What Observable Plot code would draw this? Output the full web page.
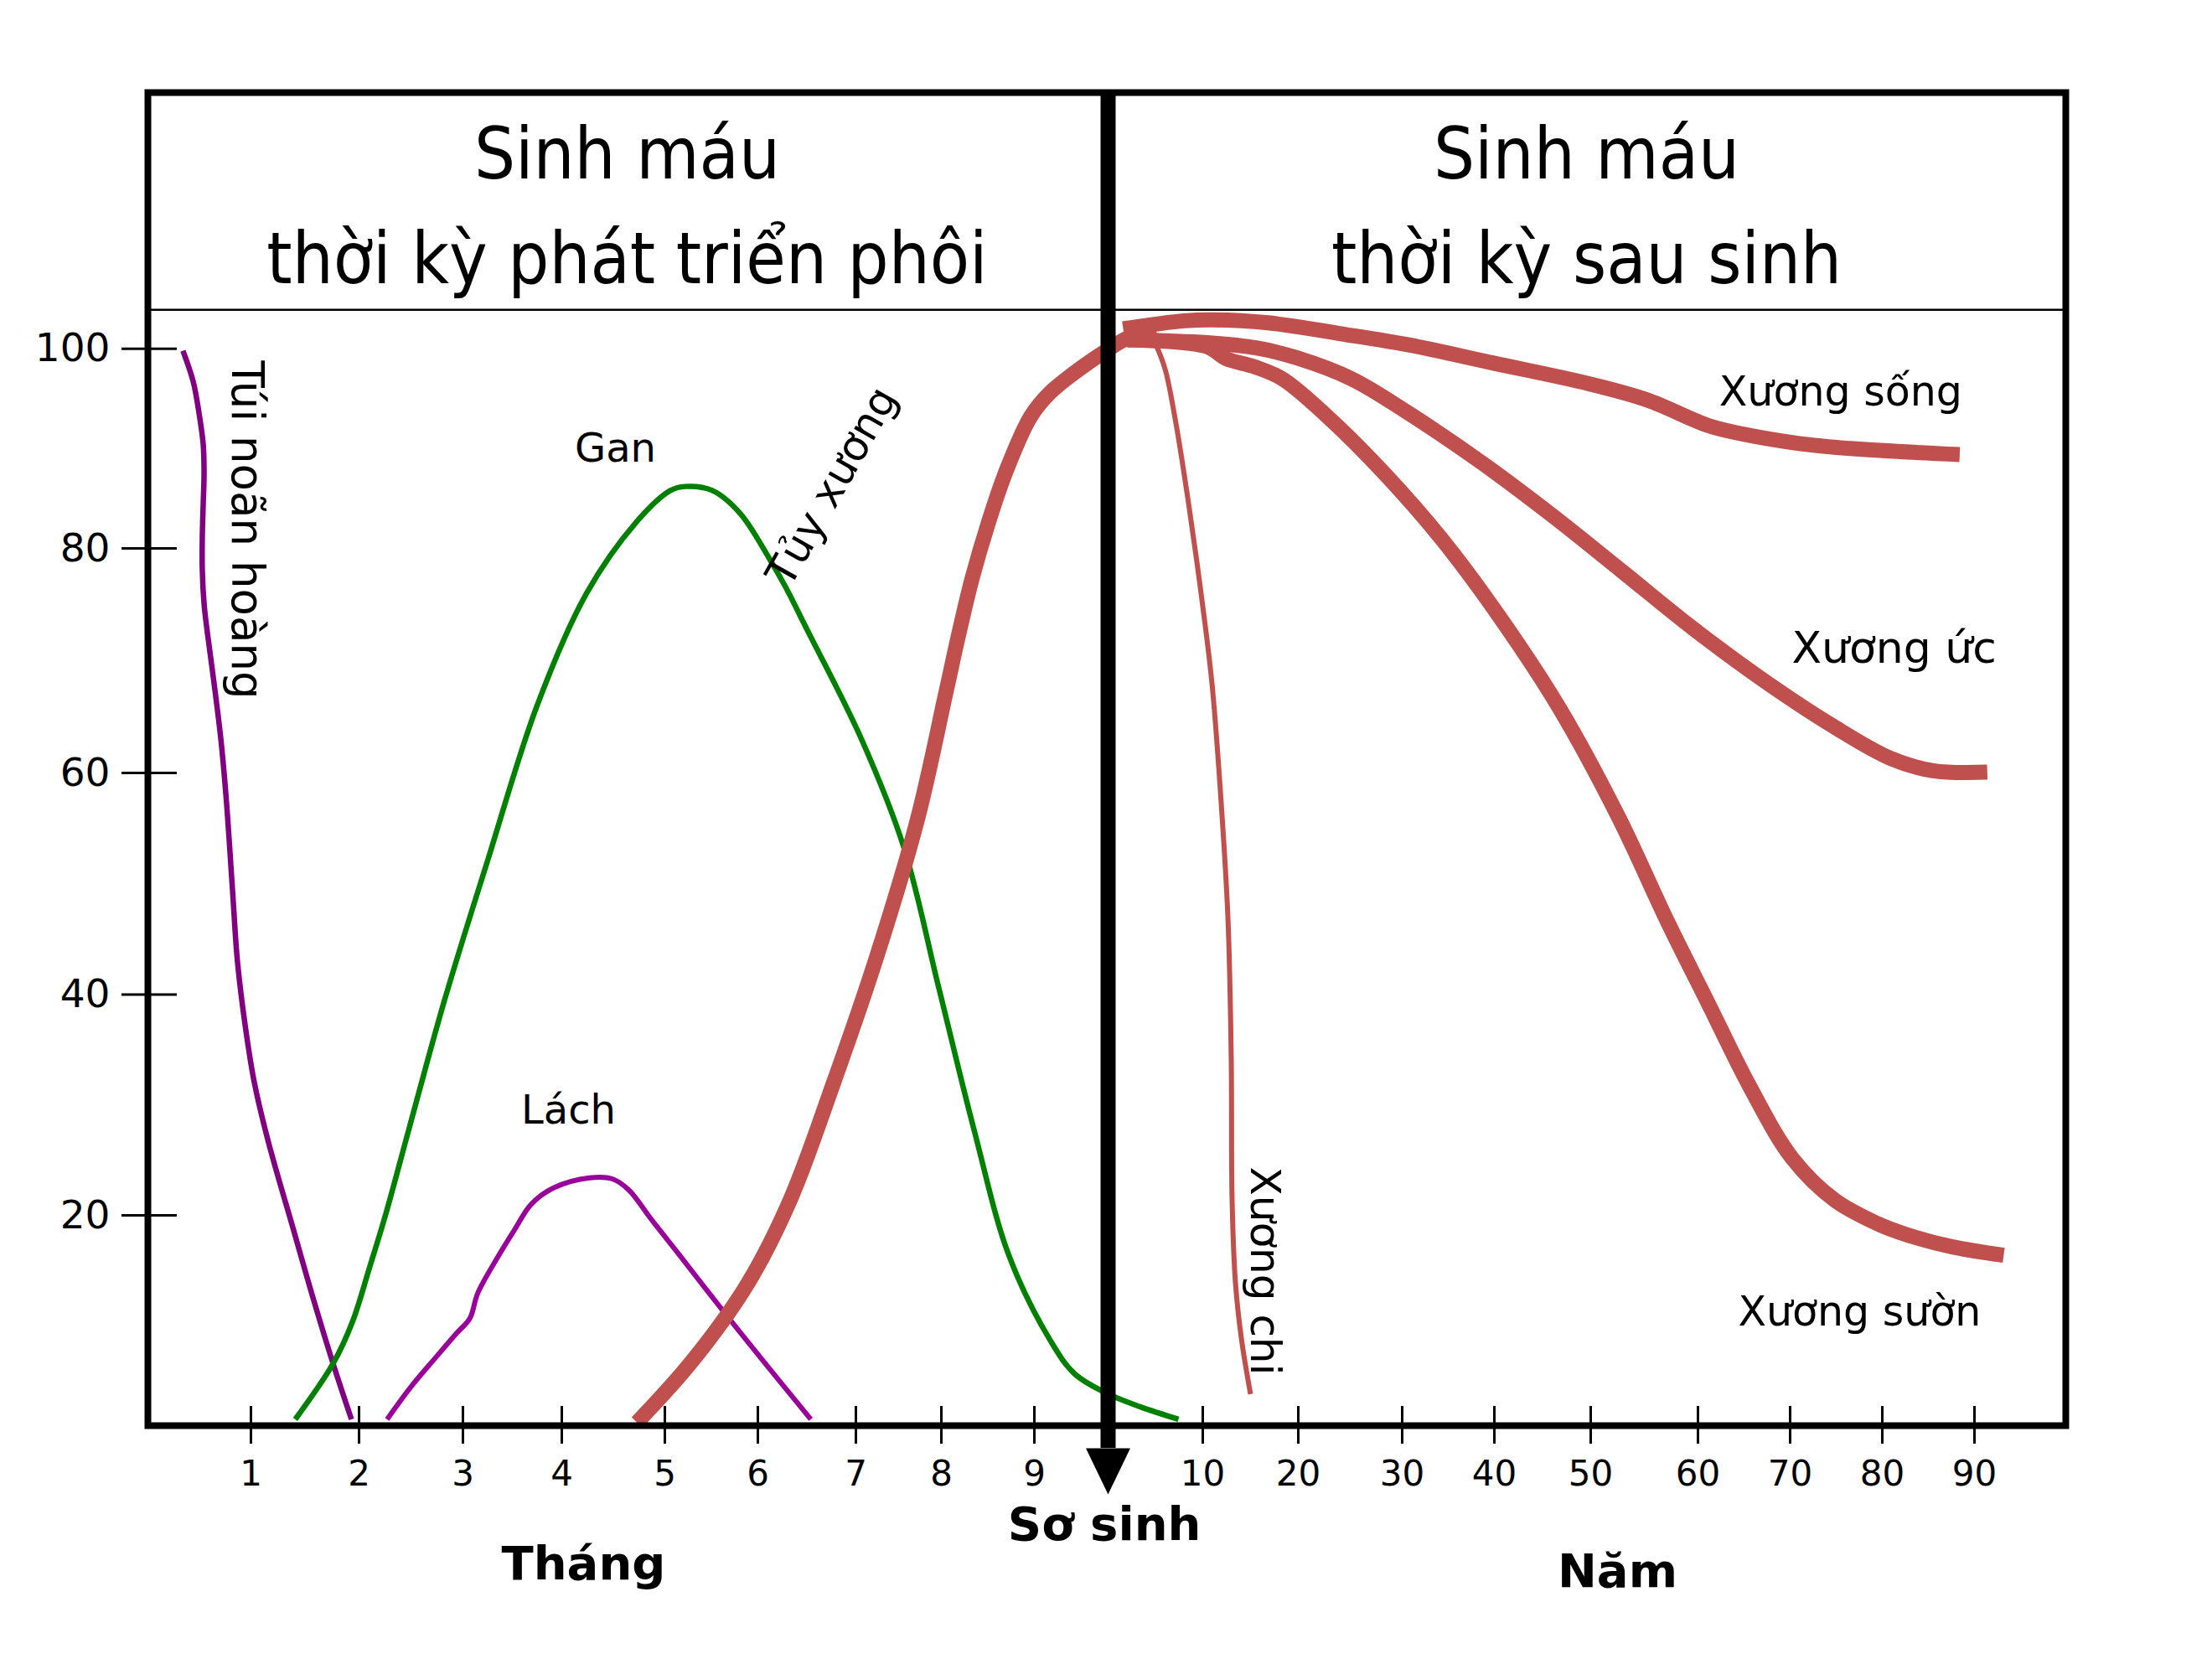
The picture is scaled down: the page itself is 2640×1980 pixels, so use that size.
<!DOCTYPE html>
<html><head><meta charset="utf-8">
<script src="https://cdn.jsdelivr.net/npm/d3@7"></script>
<script src="https://cdn.jsdelivr.net/npm/@observablehq/plot@0.6"></script>
<style>
html,body{margin:0;padding:0;background:#fff;}
#chart svg{display:block;}
g[font-family*="Condensed"]{font-stretch:condensed;}
</style></head><body><div id="chart"></div>
<script>
// ---- tick values ----
const monthTicks = [1, 2, 3, 4, 5, 6, 7, 8, 9];
const yearTicks = [10, 20, 30, 40, 50, 60, 70, 80, 90];
const yTicks = [20, 40, 60, 80, 100];
const BIRTH_MONTH = 9.8; // months since conception at birth

// ---- prenatal series: [month, % activity] ----
const tuiNoanHoang = [[0.34,99.8],[0.44,96.7],[0.50,93.3],[0.537,90.4],[0.545,87.5],[0.537,84.5],[0.528,81.2],[0.528,78.1],[0.545,75.1],[0.577,72.5],[0.642,68.0],[0.707,63.1],[0.76,57.7],[0.82,49.6],[0.87,42.9],[0.95,36.8],[1.03,32.1],[1.16,26.7],[1.40,18.4],[1.57,12.3],[1.76,5.9],[1.93,0.6]];
const gan = [[1.41,0.6],[1.76,5.9],[1.94,9.9],[2.10,15.0],[2.26,20.2],[2.48,27.8],[2.82,39.4],[3.25,52.1],[3.75,66.0],[4.24,76.0],[4.72,82.6],[5.06,85.8],[5.22,86.2],[5.51,85.8],[5.81,83.5],[6.11,79.2],[6.28,76.6],[6.50,72.8],[7.06,63.1],[7.56,53.3],[7.97,40.6],[8.35,27.8],[8.73,16.1],[9.18,8.0],[9.44,4.9],[9.78,3.1],[50.2,1.8],[99.0,0.6]];
const lach = [[2.27,0.6],[2.50,3.7],[2.74,6.5],[2.94,8.8],[3.07,10.2],[3.15,12.6],[3.35,16.0],[3.52,18.6],[3.69,21.0],[3.92,22.5],[4.27,23.4],[4.49,23.3],[4.65,22.3],[4.87,19.6],[5.15,16.3],[5.60,11.2],[6.05,6.2],[6.54,0.6]];
const tuyXuong = [[4.73,0.3],[5.29,6.1],[5.89,13.5],[6.33,21.4],[6.76,31.7],[7.23,43.1],[7.72,55.8],[8.05,67.2],[8.18,72.1],[8.33,77.3],[8.50,82.4],[8.69,87.6],[8.96,93.2],[9.17,95.6],[9.51,98.1],[9.78,99.8],[36.3,101.1],[71.4,101.5]];

// ---- postnatal series: [age in years, % activity] ----
const xuongSong = [[1.59,102.0],[8.05,102.8],[11.05,102.9],[16.84,102.6],[24.1,101.5],[30.6,100.4],[39.7,98.6],[49.8,96.5],[55.3,94.86],[61.0,92.34],[64.2,91.58],[70.5,90.57],[76.9,89.98],[88.4,89.4]];
const xuongUc = [[2.04,100.9],[10.44,100.6],[15.7,100.06],[19.8,99.1],[25.2,96.95],[30.6,93.6],[38.6,88.6],[46.0,83.3],[53.0,77.9],[59.5,72.9],[67.2,68.2],[74.8,64.1],[80.9,61.3],[85.5,60.2],[91.4,60.07]];
const xuongSuon = [[2.04,100.9],[10.44,100.2],[12.46,99.0],[15.4,98.2],[18.3,97.0],[22.6,93.4],[28.2,87.6],[34.4,80.8],[40.7,73.7],[46.8,65.7],[52.6,56.0],[57.2,46.5],[61.0,39.4],[65.6,31.7],[70.2,25.2],[74.8,21.4],[79.5,19.2],[82.5,18.2],[87.6,17.0],[93.2,16.2]];
const xuongChi = [[4.96,100.6],[6.02,97.96],[7.17,92.5],[8.50,84.5],[9.82,76.0],[10.96,68.0],[11.84,58.4],[12.63,47.0],[12.98,34.2],[13.07,21.4],[13.42,13.6],[14.04,8.3],[15.0,3.0]];

// ---- helpers ----
const fromAge = a => BIRTH_MONTH + 12 * a;
const prenatal = arr => arr.map(([m, v]) => ({t: m, v}));
const postnatal = arr => arr.map(([a, v]) => ({t: fromAge(a), v}));

const RED = "#c0504d";
const COND = "DejaVu Sans Condensed, DejaVu Sans";
const lineOpts = {x: "t", y: "v", curve: "catmull-rom", strokeLinecap: "butt", strokeLinejoin: "round"};
const arrowHead = {draw(ctx) { ctx.moveTo(-26.5, -27.5); ctx.lineTo(26.5, -27.5); ctx.lineTo(0, 27.5); ctx.closePath(); }};

const chart = Plot.plot({
  width: 2640,
  height: 1980,
  marginLeft: 176, marginRight: 175, marginTop: 110, marginBottom: 279,
  style: {fontFamily: "DejaVu Sans", background: "white", color: "black", overflow: "visible"},
  x: {type: "linear", axis: null,
      domain: [0, ...monthTicks, BIRTH_MONTH, ...yearTicks.map(fromAge), fromAge(100)],
      range: [176, 299, 428, 552, 670, 793, 904, 1021, 1123, 1234, 1322, 1435, 1549, 1673, 1783, 1898, 2026, 2136, 2246, 2356, 2465]},
  y: {type: "linear", axis: null,
      domain: [0, ...yTicks, 125],
      range: [1701, 1450, 1186.5, 922, 654, 415.7, 118.2]},
  marks: [
    Plot.ruleY([103.9], {stroke: "black", strokeWidth: 2.5}),
    Plot.line(prenatal(tuiNoanHoang), {...lineOpts, stroke: "#800080", strokeWidth: 6.5}),
    Plot.line(prenatal(gan), {...lineOpts, stroke: "#008000", strokeWidth: 6.5}),
    Plot.line(prenatal(lach), {...lineOpts, stroke: "#990099", strokeWidth: 6}),
    Plot.line(postnatal(xuongChi), {...lineOpts, stroke: RED, strokeWidth: 6}),
    Plot.line(prenatal(tuyXuong), {...lineOpts, stroke: RED, strokeWidth: 18}),
    Plot.line(postnatal(xuongSong), {...lineOpts, stroke: RED, strokeWidth: 18}),
    Plot.line(postnatal(xuongUc), {...lineOpts, stroke: RED, strokeWidth: 18}),
    Plot.line(postnatal(xuongSuon), {...lineOpts, stroke: RED, strokeWidth: 18}),
    Plot.frame({stroke: "black", strokeWidth: 8}),
    Plot.ruleX([BIRTH_MONTH], {stroke: "black", strokeWidth: 18, insetBottom: -27}),
    Plot.dot([BIRTH_MONTH], {x: d => d, y: 0, dy: 54.5, symbol: arrowHead, r: 10, fill: "black", stroke: "none"}),
    // ticks
    Plot.ruleY(yTicks, {y: d => d, x1: 0, x2: 0, insetLeft: -31, insetRight: -35, stroke: "black", strokeWidth: 3}),
    Plot.ruleX(monthTicks, {x: d => d, y1: 0, y2: 0, insetTop: -23, insetBottom: -22, stroke: "black", strokeWidth: 3}),
    Plot.ruleX(yearTicks, {x: d => fromAge(d), y1: 0, y2: 0, insetTop: -23, insetBottom: -22, stroke: "black", strokeWidth: 3}),
    // tick labels
    Plot.text(yTicks, {x: 0, y: d => d, text: d => String(d), textAnchor: "end", dx: -45, fontSize: 47}),
    Plot.text(monthTicks, {x: d => d, y: -5.7, text: d => String(d), lineAnchor: "bottom", fontSize: 42}),
    Plot.text(yearTicks, {x: d => fromAge(d), y: -5.7, text: d => String(d), lineAnchor: "bottom", fontSize: 42}),
    // header
    Plot.text(["Sinh máu"], {x: 4.634, y: 117.1, text: d => d, lineAnchor: "bottom", fontSize: 86, fontFamily: COND}),
    Plot.text(["thời kỳ phát triển phôi"], {x: 4.634, y: 106.6, text: d => d, lineAnchor: "bottom", fontSize: 86, fontFamily: COND}),
    Plot.text(["Sinh máu"], {x: fromAge(49.57), y: 117.1, text: d => d, lineAnchor: "bottom", fontSize: 86, fontFamily: COND}),
    Plot.text(["thời kỳ sau sinh"], {x: fromAge(49.57), y: 106.6, text: d => d, lineAnchor: "bottom", fontSize: 86, fontFamily: COND}),
    // series labels
    Plot.text(["Túi noãn hoàng"], {x: 0.821, y: 98.8, text: d => d, rotate: 90, textAnchor: "start", lineAnchor: "bottom", fontSize: 53}),
    Plot.text(["Gan"], {x: 4.52, y: 88.7, text: d => d, lineAnchor: "bottom", fontSize: 48}),
    Plot.text(["Lách"], {x: 4.065, y: 28.3, text: d => d, lineAnchor: "bottom", fontSize: 48}),
    Plot.text(["Tủy xương"], {x: 6.76, y: 86.2, text: d => d, rotate: -60.5, lineAnchor: "middle", fontSize: 50}),
    Plot.text(["Xương chi"], {x: fromAge(15.0), y: 24.4, text: d => d, rotate: 90, textAnchor: "start", lineAnchor: "bottom", fontSize: 50}),
    Plot.text(["Xương sống"], {x: fromAge(62.3), y: 94.35, text: d => d, textAnchor: "start", lineAnchor: "bottom", fontSize: 49}),
    Plot.text(["Xương ức"], {x: fromAge(70.18), y: 69.85, text: d => d, textAnchor: "start", lineAnchor: "bottom", fontSize: 52}),
    Plot.text(["Xương sườn"], {x: fromAge(64.36), y: 9.5, text: d => d, textAnchor: "start", lineAnchor: "bottom", fontSize: 49}),
    // axis titles
    Plot.text(["Tháng"], {x: 4.211, y: -14.66, text: d => d, lineAnchor: "bottom", fontSize: 56, fontWeight: "bold"}),
    Plot.text(["Sơ sinh"], {x: 9.76, y: -10.84, text: d => d, lineAnchor: "bottom", fontSize: 56, fontWeight: "bold"}),
    Plot.text(["Năm"], {x: fromAge(52.5), y: -15.3, text: d => d, lineAnchor: "bottom", fontSize: 56, fontWeight: "bold"})
  ]
});
document.getElementById("chart").appendChild(chart);
</script>
</body></html>
